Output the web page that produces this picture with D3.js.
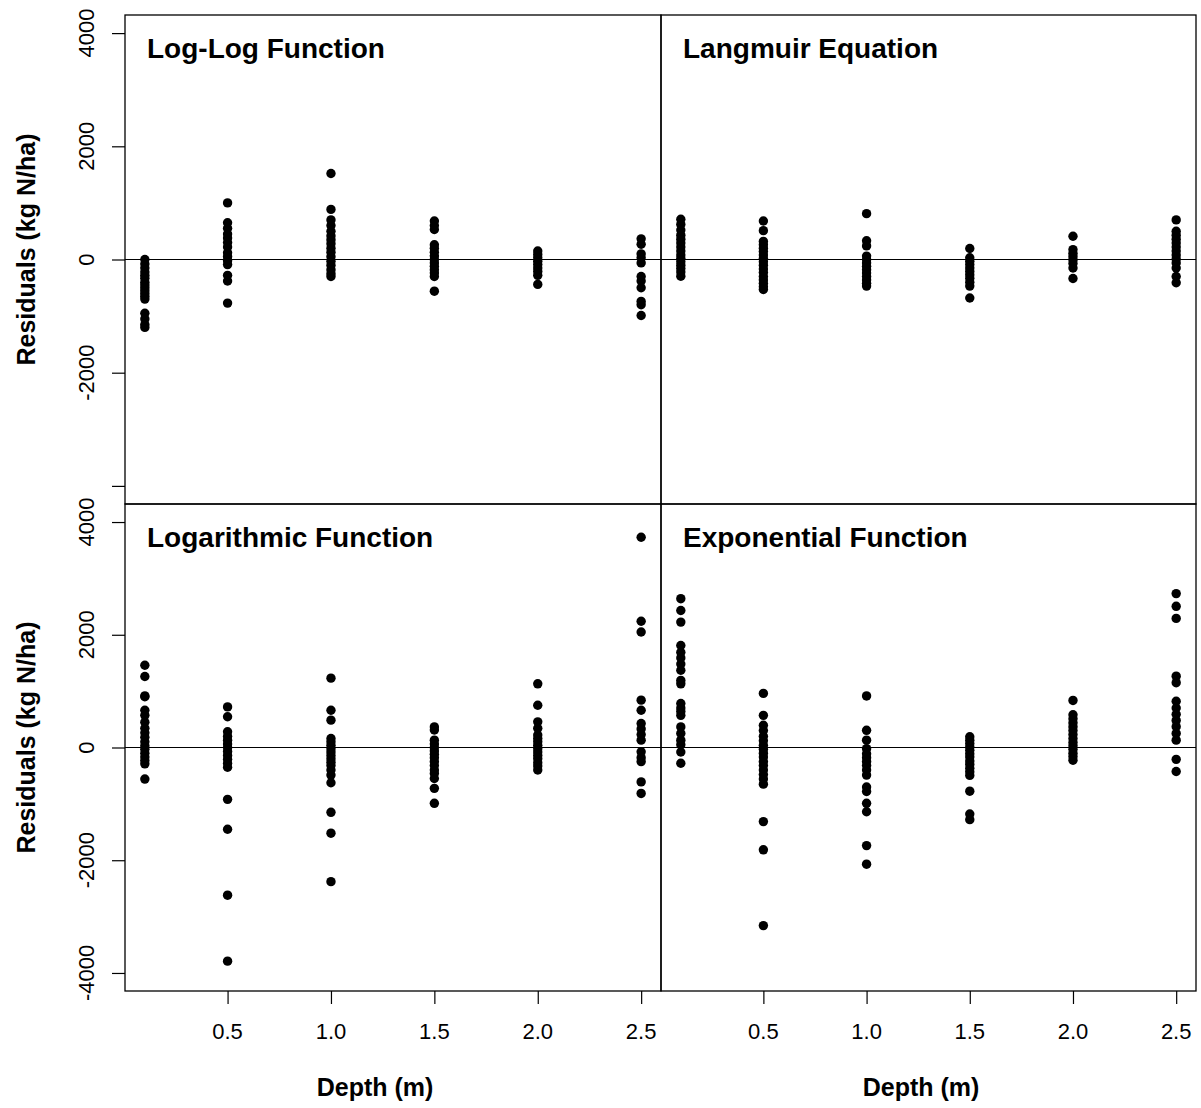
<!DOCTYPE html>
<html>
<head>
<meta charset="utf-8">
<script src="https://cdn.jsdelivr.net/npm/d3@7"></script>
<style>
  html, body { margin: 0; padding: 0; background: #fff; }
  svg { display: block; font-family: "Liberation Sans", Arial, sans-serif; }
</style>
</head>
<body>
<svg id="chart" width="1201" height="1108"></svg>
<script>
// ---- Data ----
const depths = [0.1, 0.5, 1.0, 1.5, 2.0, 2.5];
const yTicks = [-4000, -2000, 0, 2000, 4000];
const xTicks = [0.5, 1.0, 1.5, 2.0, 2.5];
const xTickLabels = ["0.5", "1.0", "1.5", "2.0", "2.5"];
const panelTitles = ["Log-Log Function", "Langmuir Equation", "Logarithmic Function", "Exponential Function"];

// residuals per depth (kg N/ha)
const logLog = [
  [0, -80, -150, -220, -280, -330, -400, -450, -500, -550, -600, -650, -700, -950, -1050, -1150, -1200],
  [1000, 650, 550, 450, 380, 300, 220, 120, 50, -20, -90, -280, -380, -770],
  [1520, 885, 700, 600, 500, 420, 350, 280, 200, 130, 50, -30, -100, -180, -250, -300],
  [680, 600, 530, 260, 200, 130, 60, 0, -60, -120, -180, -240, -300, -560],
  [150, 90, 30, -30, -90, -150, -210, -280, -440],
  [365, 270, 100, 30, -60, -300, -380, -500, -740, -800, -990]
];
const langmuir = [
  [710, 620, 520, 430, 360, 290, 220, 150, 80, 20, -40, -100, -160, -220, -295],
  [680, 510, 320, 260, 200, 140, 80, 20, -40, -100, -170, -230, -300, -360, -420, -480, -530],
  [810, 330, 240, 60, 0, -60, -120, -180, -240, -300, -360, -420, -470],
  [195, 30, -30, -90, -150, -210, -270, -330, -400, -470, -680],
  [410, 175, 110, 50, -10, -70, -150, -335],
  [700, 500, 430, 360, 290, 220, 150, 80, 10, -60, -150, -300, -410]
];
const logarithmic = [
  [1460, 1260, 915, 900, 660, 570, 450, 340, 260, 180, 100, 30, -30, -100, -170, -230, -290, -560],
  [720, 545, 280, 200, 130, 60, 0, -70, -140, -210, -280, -350, -920, -1450, -2620, -3790],
  [1230, 660, 485, 160, 100, 40, -20, -80, -140, -200, -260, -320, -400, -490, -625, -1150, -1520, -2380],
  [365, 310, 130, 60, 0, -60, -120, -180, -250, -320, -400, -460, -550, -725, -990],
  [1130, 750, 455, 340, 220, 160, 100, 40, -20, -80, -140, -200, -270, -330, -400],
  [3730, 2240, 2050, 840, 660, 425, 330, 230, 130, -75, -180, -250, -610, -815]
];
const exponential = [
  [2640, 2430, 2225, 1810, 1690, 1590, 1480, 1370, 1190, 1130, 780, 700, 640, 570, 365, 250, 130, 50, -80, -280],
  [960, 570, 395, 300, 200, 120, 40, -30, -100, -170, -250, -320, -400, -480, -560, -650, -1315, -1815, -3160],
  [915, 305, 130, -20, -110, -180, -250, -320, -400, -490, -700, -780, -990, -1140, -1740, -2070],
  [190, 130, 70, 10, -50, -110, -170, -240, -300, -370, -430, -495, -775, -1180, -1280],
  [835, 580, 510, 440, 370, 300, 230, 160, 90, 30, -30, -100, -160, -225],
  [2730, 2505, 2290, 1265, 1150, 820, 700, 590, 480, 370, 250, 130, -210, -425]
];

const models = [logLog, langmuir, logarithmic, exponential];

// ---- Layout ----
const svg = d3.select("#chart");
const colX = [[125, 661], [661, 1196]];
const rowY = [[15, 504], [504, 991]];
const xTitleX = [375, 921];
const xDomain = [0.004, 2.596];
const yDomain = [-4320, 4320];

const panels = models.map((m, i) => ({
  data: m, title: panelTitles[i], col: i % 2, row: Math.floor(i / 2)
}));

panels.forEach(p => {
  const [x0, x1] = colX[p.col];
  const [y0, y1] = rowY[p.row];
  const x = d3.scaleLinear().domain(xDomain).range([x0, x1]);
  const y = d3.scaleLinear().domain(yDomain).range([y1, y0]);
  const g = svg.append("g");

  // zero line
  g.append("line")
    .attr("x1", x0).attr("x2", x1)
    .attr("y1", y(0)).attr("y2", y(0))
    .attr("stroke", "#000").attr("stroke-width", 1.2);

  // points
  const pts = [];
  p.data.forEach((vals, j) => vals.forEach(v => pts.push({ d: depths[j], v })));
  g.selectAll("circle").data(pts).enter().append("circle")
    .attr("cx", d => x(d.d)).attr("cy", d => y(d.v))
    .attr("r", 4.7).attr("fill", "#000");

  // box
  g.append("rect")
    .attr("x", x0).attr("y", y0).attr("width", x1 - x0).attr("height", y1 - y0)
    .attr("fill", "none").attr("stroke", "#000").attr("stroke-width", 1.3);

  // title
  g.append("text")
    .attr("x", x0 + 22).attr("y", y0 + 43)
    .attr("font-size", 28).attr("font-weight", "bold")
    .text(p.title);

  // y axis on left column
  if (p.col === 0) {
    const ax = g.append("g").attr("transform", `translate(${x0},0)`)
      .call(d3.axisLeft(y).tickValues(yTicks).tickSize(13).tickFormat(""));
    ax.select(".domain").remove();
    ax.selectAll("line").attr("stroke-width", 1.2);
    const labTicks = p.row === 0 ? yTicks.filter(t => t > -4000) : yTicks;
    g.selectAll("text.ytl").data(labTicks).enter().append("text")
      .attr("class", "ytl")
      .attr("transform", d => `translate(86,${y(d)}) rotate(-90)`)
      .attr("text-anchor", "middle").attr("dy", "0.35em")
      .attr("font-size", 22)
      .text(d => String(d));
    g.append("text")
      .attr("transform", `translate(26,${(y0 + y1) / 2 - 10}) rotate(-90)`)
      .attr("text-anchor", "middle").attr("dy", "0.35em")
      .attr("font-size", 25).attr("font-weight", "bold")
      .text("Residuals (kg N/ha)");
  }

  // x axis on bottom row
  if (p.row === 1) {
    const ax = g.append("g").attr("transform", `translate(0,${y1})`)
      .call(d3.axisBottom(x).tickValues(xTicks).tickSize(13).tickFormat(""));
    ax.select(".domain").remove();
    ax.selectAll("line").attr("stroke-width", 1.2);
    g.selectAll("text.xtl").data(xTicks).enter().append("text")
      .attr("class", "xtl")
      .attr("x", d => x(d)).attr("y", 1031).attr("dy", "0.35em")
      .attr("text-anchor", "middle").attr("font-size", 22)
      .text((d, i) => xTickLabels[i]);
    g.append("text")
      .attr("x", xTitleX[p.col]).attr("y", 1087).attr("dy", "0.35em")
      .attr("text-anchor", "middle")
      .attr("font-size", 25).attr("font-weight", "bold")
      .text("Depth (m)");
  }
});
</script>
</body>
</html>
